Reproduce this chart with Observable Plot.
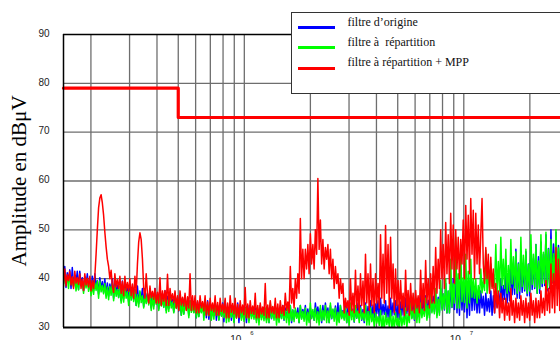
<!DOCTYPE html>
<html>
<head>
<meta charset="utf-8">
<script src="https://cdn.jsdelivr.net/npm/d3@7"></script>
<script src="https://cdn.jsdelivr.net/npm/@observablehq/plot@0.6"></script>
<style>
  body { margin: 0; background: #fff; }
  #wrap { position: relative; width: 560px; height: 340px; overflow: hidden; }
  #legend {
    position: absolute; left: 291px; top: 12px; width: 320px; height: 80px;
    background: #fff; border: 1.5px solid #333;
    font-family: "Liberation Serif", serif; font-size: 12px; color: #111;
  }
  #legend .sw { position: absolute; left: 5.5px; width: 37px; height: 3.5px; }
  #legend .tx { position: absolute; left: 55.5px; line-height: 13px; white-space: pre; }
</style>
</head>
<body>
<div id="wrap"></div>
<script>
// Conducted-emission spectra, 150 kHz .. 30 MHz, log-spaced analyser sweep.
const sweepStart = 150e3;
const sweepStop = 30e6;

// Limit line (dBµV)
const limitFreq = [150e3, 500e3, 500e3, 30e6];
const limitLevel = [79, 79, 73, 73];

// Trace samples (dBµV) along the sweep
const blueLevels = [
  39,42.5,38.2,41.2, 39.5,41.8,38,42.3, 38.6,40.6,39.2,41.5, 37.8,41.5,38.8,40.2, 37.5,40.4,38.6,41,
  38.2,39.8,37,40.5, 37.6,41,38.4,39.6, 36.8,40.2,37.9,39.4, 37.2,40,36.5,39.1, 36.4,38.9,37.3,40,
  36,39.5,37.1,38.6, 36.2,38.4,35.5,39.5, 35.9,39,36.6,38.2, 35.3,38.5,36.2,37.6, 35.6,37.8,34.5,38.5,
  34.9,37.2,35.8,38, 34.3,38,35.2,36.9, 35,37.5,34,36.8, 34.4,38,35.1,36.6, 33.8,36.7,34.7,37,
  34.2,37.5,33.5,36.4, 33.9,36.5,34.6,35.8, 33.2,37,34.1,36.1, 33.4,35.6,32.5,36, 32.9,36.5,33.8,35.4,
  32.5,35.5,33.6,34.9, 33.1,36,32,35.2, 32.3,35.5,33.2,34.6, 32.8,34.8,32,35.5, 31.7,35,32.6,34.3,
  32.4,35.5,31.5,34.5, 31.6,34.2,32.5,35, 31.2,35.5,32.2,34.1, 32,35,31.5,34.4, 31.3,34.6,32.1,35,
  31,34.5,31.9,33.8, 31.8,34.1,31,34.5, 31.5,34.5,32.3,33.7, 32.1,34,31.5,33.4, 31.2,34.5,32,33.6,
  31.9,33.6,31.5,34, 31,34.5,31.8,33.5, 32.2,34,31.5,33.3, 31.3,33.8,31.9,34.5, 31.5,34,32.4,33.2,
  32,34.5,31,33.6, 31.7,33.5,32.2,34, 31,34.5,31.9,33.7, 32.3,34.5,31.5,33.8, 31.4,34,32,33.3,
  31.5,35,32.6,34.2, 32.1,33.9,31,34.5, 31.6,35,32.4,34, 31,34.5,31.8,33.6, 32.2,34.4,31.5,35,
  31.3,34.5,32,33.5, 31.8,35,31,34.1, 31.5,34.5,32.3,33.8, 31.1,34.2,31.9,35, 32,34.5,31.5,33.7,
  31,35,31.9,34.3, 32.3,35.5,31.5,34.6, 32,34.8,32.9,35.5, 31.8,36,32.6,34.7, 32.7,35.5,32,34.4,
  31.5,36,32.4,35, 32.6,35.5,32,34.6, 31.7,35.2,32.5,36, 32,36,32.9,35.1, 32.8,36.5,32,35.4,
  31.5,35.3,32.4,36, 32.3,37,33,35.8, 33.1,36.5,32,35.6, 32.5,38,33.4,36.4, 33.2,37,32.5,36.2,
  33,38,34,36.8, 33.6,39,33,37.4, 33,38.6,34.1,40, 33.7,41,33,39.2, 32.5,40,33.6,38.5,
  33.2,41,32,39, 32.5,40,33.5,38.7, 33.6,38,33,37, 33,37.5,34,36.4, 32.5,37,33.4,35.9,
  33.2,37.5,32.5,36.5, 33,38,34.2,37, 34,40,35.3,38.6, 35.8,42,35,40.4, 35.5,44,36.7,41.5,
  36.8,46,36,43.2, 36,45,37.2,42.4, 37.5,45.5,36.5,43, 36.5,46,37.8,44.1, 38,47,37,44.5,
  37,47.5,38.4,45, 38.6,49,37.5,46.2, 38,50,39.2,47.1, 39,49.5,38,46.8, 38.5,49,39.6,46.5,
  39.3,48.5,38.5,47
];

const greenLevels = [
  38.4,41,39.2,40.3, 38,40.5,38.9,40, 38.3,40.5,37.5,39.7, 37.7,40,38.6,39.4, 37,39.6,38.1,40,
  37.4,39.5,36.5,38.8, 36.8,39.1,37.6,39.5, 36,39.5,37.3,38.6, 36.9,39,36,38.3, 35.7,38.4,36.6,39,
  35.5,38.5,36.4,37.8, 36.1,38.5,35,37.6, 35.2,38,36,37.3, 34.5,37.4,35.6,38, 35.3,37.5,34.5,36.7,
  34.2,37.5,35.1,36.5, 34,36.6,34.9,37, 34.6,37,33.5,36.2, 33.8,37.5,34.7,36.4, 33.5,36.5,34.4,35.7,
  34.1,36.5,33,35.6, 33.3,36,34,35.2, 33,35.4,33.9,36, 33.5,35.5,32.5,34.8, 32.7,35.5,33.6,34.6,
  32,35.5,33.1,34.5, 33,35,32,34.2, 32.2,34.3,33,35, 31.5,35,32.6,34, 32.4,34.5,31.5,33.8,
  31.7,35,32.5,34.1, 31.5,34.5,32.3,33.6, 32,34.5,31,33.7, 31.2,33.9,32.1,34.5, 31,34.5,31.9,33.5,
  32.2,34.5,31.5,33.6, 31.3,34,32,33.2, 31,34.5,31.8,33.4, 31.7,33.5,31,34, 30.5,34.5,31.6,33.3,
  31.4,34,31,33.1, 31,35,31.9,33.6, 31.5,34,30.5,33.2, 31,34.5,31.8,33.4, 31.6,33.4,31,34,
  30.5,34.5,31.4,33.6, 31.2,34,31.9,33, 31,34.5,31.7,33.3, 31.3,34,30.5,33.1, 31,35,31.8,33.7,
  31.5,34,31,33.2, 30.5,34.5,31.4,33.5, 31.6,34.5,31,33.4, 31,35,31.9,33.8, 31.3,34,30.5,33.1,
  31,34.5,31.8,33.3, 31.5,34,31,33, 30.5,35,31.6,33.6, 31.2,34.5,31.9,33.4, 31,34,31.7,33.1,
  31.4,34.5,30.5,33.3, 30.5,34,31.2,32.8, 30,33,30.9,32.2, 30.4,33.5,29.5,32.4, 29.5,33,30.6,32,
  30.2,33.5,29.5,32.3, 29.7,33,30.5,31.9, 29.5,33.5,30.3,32.2, 30.6,34,30,32.8, 31,35,31.8,33.6,
  31.7,36,31,34.2, 31,35,32,33.8, 32.3,36,31.5,34.5, 32,37,33,35.2, 32.8,38,32,35.8,
  32.5,39.6,33.6,36.9, 33.8,40,33,37.5, 33,44,34.2,39, 35,48.5,34,41, 34,46,35.3,40.2,
  35.1,45,34,41.5, 35,44,36.2,40, 36,40,35,38.6, 36,42,37.1,39.8, 37.6,45.8,37,42,
  37.5,43,38.4,41, 38.2,47,37,43.5, 37.5,48.5,38.6,44, 38,46,37,42.7, 37.5,48,38.9,44.5,
  38.1,45.5,37,43, 37.5,48.5,38.4,44.8, 37.9,46,37,42.9, 37.5,49,38.8,45, 38.3,47,37,43.6,
  38,49,39,45.4, 39.1,49.5,38,46, 38.5,48,39.4,45.1, 39.6,50,39,46.3, 38.5,49,39.5,45.8,
  39.8,50,39,46.4
];

const redLevels = [
  39,42,38.5,40.8, 39.6,41.5,38.7,40.4, 38,41.5,39.1,40.2, 38.8,41,38,39.9, 37.6,41,38.7,40.1,
  38.3,40.5,37.5,39.6, 38,40.5,45,50, 54.5,56.5,57.2,55.5, 53,49.5,46.5,44, 42.5,40,41.7,38.5,
  37.2,41,38.3,39.8, 38,40.5,37,39.4, 36.5,40.5,37.6,39.2, 37.4,40,36.5,38.9, 36,40.5,37,43,
  47.5,49.4,48,44, 38,36,41,37, 35,38.5,36.1,37.4, 35.8,38,35,37.2, 35,40.2,34.5,37.5,
  35.4,37.6,34.5,40.9, 34.5,38,35.6,36.9, 35.1,37.5,34,36.5, 33.5,37.5,34.6,36.2, 34.4,37,33.5,36.3,
  34,41,33.5,36.5, 33.6,36.5,33,35.5, 33,36.5,34,35.3, 33.4,36.5,32.5,35.2, 32.5,36,33.5,35,
  33.2,36.5,32.5,35.1, 32.5,36,33.3,34.8, 33,36,32,35, 32,36.5,33.1,34.9, 32.8,36,32,34.7,
  32,35.5,33,34.6, 32.6,38.2,32,34.8, 32,35.5,32.9,34.4, 32.7,37,32,34.5, 32,35,32.8,34.2,
  32.5,39,32,34.6, 32,35.5,33,34.3, 32.8,36,32,34.8, 32,35.5,32.9,34.5, 32.5,37,33.5,35.2,
  33,42.5,35,38, 34,40,36,41, 37,52.3,40,46, 40,46,42,47, 41,49.2,43,47,
  42,50,45,60.5, 46,52,43,48, 42,46.4,44,47, 41,46,40,44, 38,42.5,39,41,
  36,40,37,39, 33,36,34,35.5, 32.5,40,33.5,37, 33,41.7,34,38.5, 33,41,34.5,39.5,
  33,45,35,41, 33.5,43,34.5,40, 33,41,35,39, 34,49,36,45, 35,50.9,37,47,
  34,48.5,36,43, 33,42,34.5,39.6, 33,39.6,34,37, 32.5,41.7,33.5,37.6, 32.5,39,33.5,37,
  33,37.6,34,36.5, 33,41.7,34,39, 33.5,43.7,35,40, 34,41,35,42.5, 35,46.4,37,44,
  38,50,40,47, 38,51.5,41,49, 39,53.4,42,51, 39,50,42,48.5, 40,48,43,52,
  40,55,44,53, 41,56.4,45,54, 40,53.4,43,51, 41,49,56.4,43, 39,46.4,40,45,
  37,44.4,38,42, 33,39,34,37.5, 32,37,33,36, 31.5,36,32.5,35, 31.5,38,32.5,35.5,
  31,36,32,35, 31.5,36.5,32.5,35.5, 31,36,32,35, 31.5,37,32.5,35.5, 31,36,32,35.5,
  32,37.5,33,36, 32.5,39.6,33.5,38, 33,43,34,41, 33,46.4,34.5,44, 33.5,45,34.5,46.5,
  33,46,34,44
];

// Grid and axis ticks
const gridFreq = [2e5, 3e5, 4e5, 5e5, 6e5, 7e5, 8e5, 9e5, 1e6,
                  2e6, 3e6, 4e6, 5e6, 6e6, 7e6, 8e6, 9e6, 1e7, 2e7];
const gridLevel = [40, 50, 60, 70, 80];
const yTicks = [30, 40, 50, 60, 70, 80, 90];
const decadeFreq = [1e6, 1e7];
const decadeExp = ["6", "7"];

const n = blueLevels.length;
const freq = d3.range(n).map(i => sweepStart * Math.pow(sweepStop / sweepStart, i / (n - 1)));
const trace = levels => levels.map((v, i) => ({f: freq[i], v}));
const limit = limitFreq.map((f, i) => ({f, v: limitLevel[i]}));

const chart = Plot.plot({
  width: 575,
  height: 340,
  marginLeft: 63,
  marginRight: 7,
  marginTop: 34,
  marginBottom: 13,
  style: {maxWidth: "none", background: "transparent", fontFamily: "Liberation Sans", fontSize: "10px", color: "#222"},
  x: {type: "log", domain: [sweepStart, sweepStop]},
  y: {domain: [30, 90]},
  marks: [
    Plot.ruleX(gridFreq, {stroke: "#6e6e6e", strokeWidth: 1.3}),
    Plot.ruleY(gridLevel, {stroke: "#6e6e6e", strokeWidth: 1.3}),
    Plot.line(trace(blueLevels), {x: "f", y: "v", stroke: "#0000ff", strokeWidth: 1.5, clip: true}),
    Plot.line(trace(greenLevels), {x: "f", y: "v", stroke: "#00ff00", strokeWidth: 1.5, clip: true}),
    Plot.line(trace(redLevels), {x: "f", y: "v", stroke: "#ff0000", strokeWidth: 1.5, clip: true}),
    Plot.line(limit, {x: "f", y: "v", stroke: "#ff0000", strokeWidth: 3.2}),
    Plot.ruleX([sweepStart], {stroke: "#000", strokeWidth: 1.5}),
    Plot.ruleY([90], {stroke: "#000", strokeWidth: 1.6}),
    Plot.ruleY([30], {stroke: "#000", strokeWidth: 2.2}),
    Plot.axisY(yTicks, {tickSize: 0, tickPadding: 14, label: null, dy: -1}),
    Plot.axisX({ticks: [], label: null, tickSize: 0}),
    Plot.text(decadeFreq, {x: d => d, text: () => "10", frameAnchor: "bottom", textAnchor: "end", lineAnchor: "top", dx: -3, dy: 8, fontSize: 10}),
    Plot.text(decadeFreq, {x: d => d, text: (d, i) => decadeExp[i], frameAnchor: "bottom", textAnchor: "start", lineAnchor: "top", dx: 6, dy: 3, fontSize: 6}),
    Plot.text(["Amplitude en dBμV"], {frameAnchor: "left", textAnchor: "middle", rotate: -90, dx: -44, fontFamily: "Liberation Serif", fontSize: 21, fill: "#000"})
  ]
});

const wrap = document.getElementById("wrap");
wrap.appendChild(chart);

// Legend box
const legendItems = [
  {label: "filtre d’origine", color: "#0000ff", sw: 12.5, tx: 3.3},
  {label: "filtre à  répartition", color: "#00ff00", sw: 32.5, tx: 23.3},
  {label: "filtre à répartition + MPP", color: "#ff0000", sw: 53.8, tx: 43.3}
];
const legend = document.createElement("div");
legend.id = "legend";
for (const item of legendItems) {
  const sw = document.createElement("div");
  sw.className = "sw";
  sw.style.top = item.sw + "px";
  sw.style.background = item.color;
  const tx = document.createElement("div");
  tx.className = "tx";
  tx.style.top = item.tx + "px";
  tx.textContent = item.label;
  legend.appendChild(sw);
  legend.appendChild(tx);
}
wrap.appendChild(legend);
</script>
</body>
</html>
